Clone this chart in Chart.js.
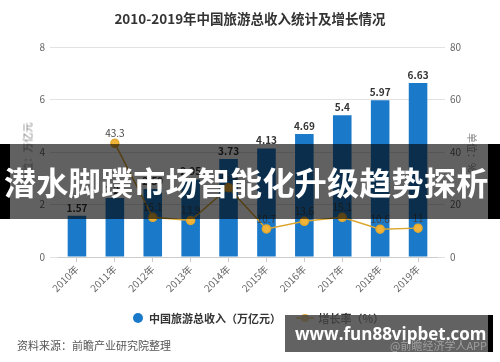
<!DOCTYPE html>
<html>
<head>
<meta charset="utf-8">
<script src="https://cdn.jsdelivr.net/npm/chart.js@4/dist/chart.umd.min.js"></script>
<style>
  html, body { margin: 0; padding: 0; background: #fff; }
  #wrap { position: relative; width: 500px; height: 362px; overflow: hidden; font-family: "Noto Sans CJK SC", "Noto Sans", sans-serif; }
  #myChart { position: absolute; left: 0; top: 0; }
  .abs { position: absolute; white-space: nowrap; }
  #title { left: 0; width: 500px; top: 8px; text-align: center; font-size: 13.5px; font-weight: bold; color: #333; }
  .ytitle { font-size: 10px; color: #888; }
  #legend { top: 308px; left: 133px; font-size: 11px; color: #333; font-weight: bold; }
  #legend span { display: inline-block; vertical-align: middle; }
  #src { left: 17px; top: 337px; font-size: 11px; color: #555; }
  #app { left: 390px; top: 337px; font-size: 11px; z-index: 3; }
  #banner { left: 0; top: 144px; width: 500px; height: 75px; background: rgba(0,0,0,0.62); }
  #banner .l { position: absolute; left: 0; top: 0; width: 10px; height: 75px; background: #000; }
  #banner .r { position: absolute; right: 0; top: 0; width: 12px; height: 75px; background: #000; }
  #banner .t { position: absolute; left: 4px; top: 17px; font-size: 32px; font-weight: bold; color: #fff; letter-spacing: 0.3px; line-height: 40px; }
  #wm { left: 285px; top: 315px; width: 203px; height: 37px; background: rgba(70,70,70,0.85); border-right: 5px solid #000; z-index: 2; }
</style>
</head>
<body>
<div id="wrap">
  <canvas id="myChart" width="500" height="362"></canvas>
  <div class="abs" id="title">2010-2019年中国旅游总收入统计及增长情况</div>
  <div class="abs ytitle" style="left:-3px; top:145px; width:60px; text-align:center; transform:rotate(-90deg);">单位：万亿元</div>
  <div class="abs ytitle" style="left:445px; top:145px; width:55px; text-align:center; transform:rotate(90deg);">单位：%</div>
  <div class="abs" id="legend">
    <span style="width:10px;height:10px;border-radius:50%;background:#1b79c9;margin-right:6px;"></span><span>中国旅游总收入（万亿元）</span>
    <span style="position:relative;width:18px;height:10px;margin-left:12px;margin-right:5px;">
      <span style="position:absolute;left:0;top:4px;width:18px;height:2px;background:#e3a92f;"></span>
      <span style="position:absolute;left:5px;top:1px;width:8px;height:8px;border-radius:50%;background:#e3a92f;"></span>
    </span><span>增长率（%）</span>
  </div>
  <div class="abs" id="src">资料来源：前瞻产业研究院整理</div>
  <div class="abs" id="banner"><div class="l"></div><div class="r"></div><div class="t">潜水脚蹼市场智能化升级趋势探析</div></div>
  <div class="abs" id="wm"></div>
  <div class="abs" id="app" style="color:rgba(200,200,200,0.6);">@前瞻经济学人APP</div>
  <div class="abs" style="left:295px; top:322px; font-size:17px; font-weight:bold; color:#fff; font-family:'Open Sans','DejaVu Sans',sans-serif; z-index:4;">www.fun88vipbet.com</div>
</div>
<script>
const years = ['2010年', '2011年', '2012年', '2013年', '2014年', '2015年', '2016年', '2017年', '2018年', '2019年'];
const revenue = [1.57, 2.25, 2.59, 2.95, 3.73, 4.13, 4.69, 5.4, 5.97, 6.63];
const growth = [null, 43.3, 15.1, 13.9, 26.4, 10.7, 13.6, 15.1, 10.6, 11];
const leftTicks = [0, 2, 4, 6, 8];
const rightTicks = [0, 20, 40, 60, 80];

const fontFamily = '"Noto Sans CJK SC", "Noto Sans", sans-serif';

// value labels above bars and points
const valueLabels = {
    id: 'valueLabels',
    afterDatasetsDraw(chart) {
        const ctx = chart.ctx;
        ctx.save();
        ctx.textAlign = 'center';
        ctx.textBaseline = 'bottom';
        chart.getDatasetMeta(0).data.forEach((bar, i) => {
            ctx.font = 'bold 10px ' + fontFamily;
            ctx.fillStyle = '#333';
            ctx.fillText(revenue[i], bar.x, bar.y - 3);
        });
        chart.getDatasetMeta(1).data.forEach((pt, i) => {
            if (growth[i] === null) return;
            ctx.font = '10px ' + fontFamily;
            ctx.fillStyle = '#444';
            ctx.fillText(growth[i], pt.x, pt.y - 5);
        });
        ctx.restore();
    }
};

const ctx = document.getElementById('myChart').getContext('2d');
const myChart = new Chart(ctx, {
    type: 'bar',
    plugins: [valueLabels],
    data: {
        labels: years,
        datasets: [{
            type: 'bar',
            label: '中国旅游总收入（万亿元）',
            data: revenue,
            backgroundColor: '#1b79c9',
            categoryPercentage: 1,
            barPercentage: 0.49,
            yAxisID: 'y',
            order: 2
        }, {
            type: 'line',
            label: '增长率（%）',
            data: growth,
            borderColor: '#dba62f',
            borderWidth: 1.5,
            backgroundColor: '#f0b43a',
            pointBackgroundColor: '#f0b43a',
            pointBorderColor: '#e3a92f',
            pointRadius: 4,
            tension: 0,
            yAxisID: 'y1',
            order: 1
        }]
    },
    options: {
        responsive: false,
        animation: false,
        layout: { padding: { top: 47, left: 0, right: 0, bottom: 0 } },
        plugins: {
            legend: { display: false },
            title: { display: false },
            tooltip: { enabled: false }
        },
        scales: {
            x: {
                offset: true,
                grid: { offset: false, drawOnChartArea: false, tickLength: 5, color: '#ccc' },
                border: { color: '#ccc' },
                ticks: { minRotation: 45, maxRotation: 45, color: '#666', font: { size: 10, family: fontFamily }, padding: 1 },
                afterFit(scale) { scale.height = 105; }
            },
            y: {
                position: 'left',
                min: 0, max: 8,
                afterBuildTicks(scale) { scale.ticks = leftTicks.map(v => ({ value: v })); },
                grid: { color: '#e2e2e2', tickLength: 8 },
                border: { display: false },
                ticks: { color: '#666', font: { size: 10, family: fontFamily }, padding: 5 },
                afterFit(scale) { scale.width = 58; }
            },
            y1: {
                position: 'right',
                min: 0, max: 80,
                afterBuildTicks(scale) { scale.ticks = rightTicks.map(v => ({ value: v })); },
                grid: { drawOnChartArea: false, color: '#e2e2e2', tickLength: 8 },
                border: { display: false },
                ticks: { color: '#666', font: { size: 10, family: fontFamily }, padding: 5 },
                afterFit(scale) { scale.width = 63; }
            }
        }
    }
});
</script>
</body>
</html>
